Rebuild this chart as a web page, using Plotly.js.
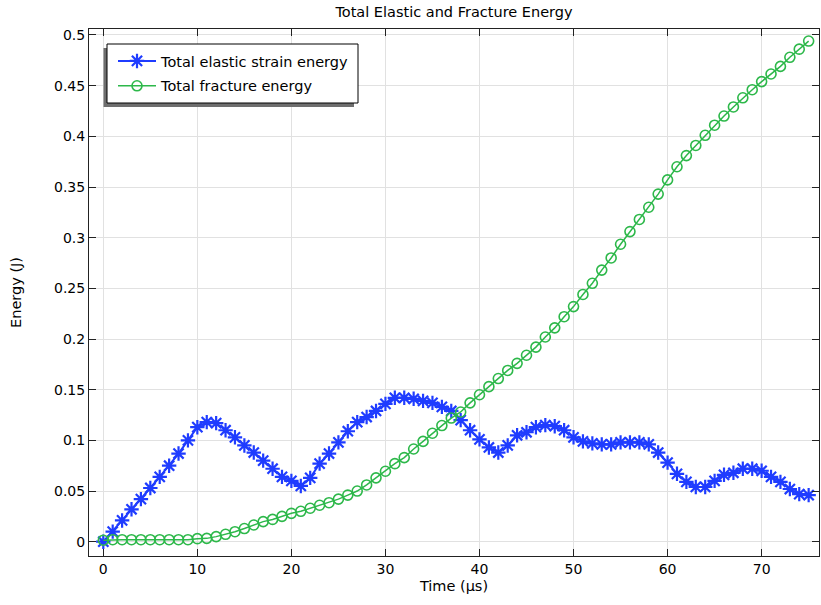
<!DOCTYPE html>
<html>
<head>
<meta charset="utf-8">
<script src="https://cdn.plot.ly/plotly-3.0.1.min.js"></script>
<style>html,body{margin:0;padding:0;background:#fff;}#chart{width:821px;height:605px;}</style>
</head>
<body>
<div id="chart"></div>
<script>
// Time (µs)
const time = [0,1,2,3,4,5,6,7,8,9,10,11,12,13,14,15,16,17,18,19,20,21,22,23,24,25,26,27,28,29,30,31,32,33,34,35,36,37,38,39,40,41,42,43,44,45,46,47,48,49,50,51,52,53,54,55,56,57,58,59,60,61,62,63,64,65,66,67,68,69,70,71,72,73,74,75];
// Total elastic strain energy (J)
const elasticEnergy = [0.000,0.010,0.021,0.032,0.042,0.053,0.064,0.075,0.087,0.100,0.113,0.118,0.117,0.110,0.103,0.095,0.088,0.080,0.072,0.064,0.060,0.055,0.063,0.077,0.087,0.098,0.109,0.118,0.123,0.129,0.136,0.142,0.142,0.141,0.139,0.137,0.133,0.129,0.120,0.110,0.101,0.093,0.088,0.095,0.105,0.108,0.113,0.115,0.114,0.110,0.103,0.099,0.097,0.096,0.096,0.098,0.098,0.098,0.096,0.088,0.078,0.067,0.059,0.054,0.054,0.060,0.066,0.068,0.072,0.072,0.070,0.064,0.059,0.052,0.047,0.046];
// Total fracture energy (J)
const fractureEnergy = [0.0015,0.002,0.002,0.002,0.002,0.002,0.002,0.002,0.002,0.002,0.003,0.0033,0.005,0.0073,0.0099,0.013,0.0165,0.0198,0.022,0.025,0.028,0.030,0.033,0.036,0.0385,0.042,0.046,0.050,0.056,0.063,0.0695,0.077,0.083,0.0915,0.099,0.107,0.1146,0.122,0.128,0.137,0.145,0.153,0.161,0.169,0.176,0.184,0.192,0.202,0.211,0.222,0.232,0.244,0.255,0.268,0.280,0.2935,0.306,0.318,0.330,0.343,0.357,0.370,0.381,0.391,0.401,0.411,0.420,0.429,0.438,0.446,0.454,0.4615,0.469,0.478,0.486,0.494];
const seriesNames = ["Total elastic strain energy", "Total fracture energy"];
const xTicks = [0,10,20,30,40,50,60,70];
const yTicks = [0,0.05,0.1,0.15,0.2,0.25,0.3,0.35,0.4,0.45,0.5];

const blue = "#1f3cff";
const green = "#2db84a";
const FONT = "DejaVu Sans";
const textSize = 14.5;
const tickSize = 14;

const traces = [
  {
    x: time, y: elasticEnergy, name: seriesNames[0], type: "scatter", mode: "lines+markers",
    legendgroup: "g1",
    line: {color: blue, width: 2},
    marker: {symbol: "asterisk-open", size: 12, color: blue, line: {color: blue, width: 2.2}}
  },
  {
    x: time, y: fractureEnergy, name: seriesNames[1], type: "scatter", mode: "lines+markers",
    legendgroup: "g2",
    line: {color: green, width: 1.5},
    marker: {symbol: "circle-open", size: 10, color: green, line: {color: green, width: 1.6}}
  }
];

// plot area in pixels: left 89, right 819, top 29, bottom 556
const L = 89, R = 819, T = 29, B = 556;
const px = v => (v - L) / (R - L);
const py = v => (B - v) / (B - T);

const axisCommon = {
  showline: true, linecolor: "#222", linewidth: 1, mirror: "ticks",
  ticks: "inside", ticklen: 7, tickcolor: "#222", tickwidth: 1,
  showgrid: true, gridcolor: "#e1e1e1", gridwidth: 1, zeroline: false,
  tickfont: {family: FONT, size: tickSize, color: "#000"}
};

const layout = {
  width: 821, height: 605,
  margin: {l: L, r: 821 - R, t: T, b: 605 - B},
  paper_bgcolor: "#fff", plot_bgcolor: "#fff",
  font: {family: FONT, size: textSize, color: "#000"},
  title: {text: "Total Elastic and Fracture Energy", x: 0.5, xref: "paper", y: 1 - 12/605, yanchor: "middle",
          font: {family: FONT, size: textSize, color: "#000"}},
  xaxis: Object.assign({}, axisCommon, {
    range: [-1.52, 76.1], tickvals: xTicks, ticktext: xTicks.map(String),
    title: {text: "Time (μs)", standoff: 5, font: {family: FONT, size: textSize, color: "#000"}}
  }),
  yaxis: Object.assign({}, axisCommon, {
    range: [-0.0141, 0.5059], tickvals: yTicks, ticktext: yTicks.map(String),
    title: {text: "Energy (J)", standoff: 28, font: {family: FONT, size: textSize, color: "#000"}}
  }),
  showlegend: true,
  legend: {
    x: px(113), y: py(45), xanchor: "left", yanchor: "top",
    bgcolor: "rgba(0,0,0,0)", borderwidth: 0,
    font: {family: FONT, size: textSize, color: "#000"},
    itemwidth: 38, tracegroupgap: 3
  },
  shapes: [
    {type: "rect", xref: "paper", yref: "paper", layer: "above",
     x0: px(103.5), x1: px(354), y0: py(107), y1: py(48),
     fillcolor: "#6e6e6e", line: {width: 0}},
    {type: "rect", xref: "paper", yref: "paper", layer: "above",
     x0: px(107), x1: px(358), y0: py(103), y1: py(44),
     fillcolor: "#ffffff", line: {color: "#000", width: 1}}
  ]
};

Plotly.newPlot("chart", traces, layout, {displayModeBar: false, staticPlot: true});
</script>
</body>
</html>
